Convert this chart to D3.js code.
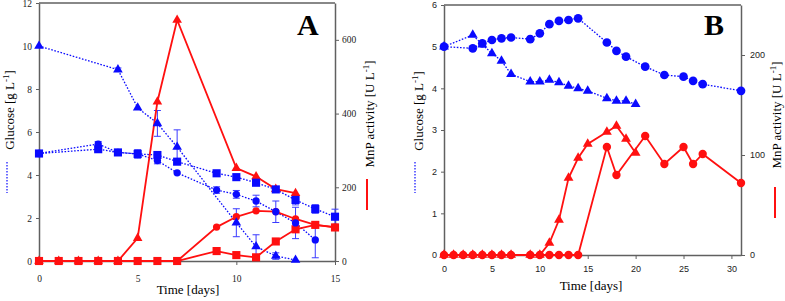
<!DOCTYPE html>
<html>
<head>
<meta charset="utf-8">
<script src="https://cdn.jsdelivr.net/npm/d3@7"></script>
<style>
    body { margin: 0; background: #fff; }
</style>
</head>
<body>
<div id="chart"></div>
<script>

// ---- panel A : glucose (blue) ----
const daysA_gTri = [0, 4, 5, 6, 7, 10, 11, 12, 13];
const glcA_tri   = [10, 8.9, 7.13, 6.4, 5.3, 1.78, 0.67, 0.23, 0.05];
const errA_tri   = [0, 0.08, 0, 0.6, 0.8, 0.65, 0.55, 0.15, 0];

const daysA_gSq  = [0, 3, 4, 5, 6, 7, 9, 10, 11, 12, 13, 14, 15];
const glcA_sq    = [5, 5.2, 5.05, 4.98, 4.93, 4.62, 4.08, 3.9, 3.64, 3.33, 2.84, 2.42, 2.06];
const errA_sq    = [0, 0.1, 0, 0.2, 0, 0, 0, 0, 0, 0, 0.23, 0.2, 0.35];

const daysA_gCi  = [0, 3, 4, 5, 6, 7, 9, 10, 11, 12, 13, 14];
const glcA_ci    = [5, 5.44, 5.05, 4.98, 4.67, 4.1, 3.3, 3.1, 2.79, 2.29, 1.77, 0.98];
const errA_ci    = [0, 0.12, 0, 0, 0.15, 0, 0.15, 0.18, 0.27, 0.5, 0.73, 0.83];

// ---- panel A : MnP activity (red) ----
const daysA_mTri = [0, 1, 2, 3, 4, 5, 6, 7, 10, 11, 12, 13];
const mnpA_tri   = [0, 0, 0, 0, 0, 62, 432, 654, 252, 229, 195, 184];

const daysA_mCi  = [0, 1, 2, 3, 4, 5, 6, 7, 9, 10, 11, 12, 13, 14, 15];
const mnpA_ci    = [0, 0, 0, 0, 0, 0, 0, 0, 92, 120, 136, 134, 114, 98, 92];

const daysA_mSq  = [0, 1, 2, 3, 4, 5, 6, 7, 9, 10, 11, 12, 13, 14, 15];
const mnpA_sq    = [0, 0, 0, 0, 0, 0, 0, 0, 27, 16, 10, 53, 86, 98, 91];

// ---- panel B : glucose (blue) ----
const daysB_gCi  = [0, 3, 4, 5, 6, 7, 9, 10, 11, 12, 13, 14, 17, 18, 19, 21, 23, 25, 26, 27, 31];
const glcB_ci    = [5, 4.96, 5.08, 5.16, 5.2, 5.22, 5.18, 5.32, 5.54, 5.62, 5.64, 5.68, 5.1, 4.9, 4.76, 4.52, 4.32, 4.28, 4.18, 4.1, 3.94];

const daysB_gTri = [0, 3, 4, 5, 6, 7, 9, 10, 11, 12, 13, 14, 15, 17, 18, 19, 20];
const glcB_tri   = [5, 5.28, 5.05, 4.84, 4.66, 4.34, 4.16, 4.16, 4.2, 4.14, 4.06, 4.0, 3.94, 3.76, 3.7, 3.7, 3.62];

// ---- panel B : MnP activity (red) ----
const daysB_mTri = [0, 1, 2, 3, 4, 5, 6, 7, 9, 10, 11, 12, 13, 14, 15, 17, 18, 19, 20];
const mnpB_tri   = [0, 0, 0, 0, 0, 0, 0, 0, 0, 0, 12, 35, 77, 97, 111, 123, 129, 116, 102];

const daysB_mCi  = [0, 1, 2, 3, 4, 5, 6, 7, 9, 10, 11, 12, 13, 14, 17, 18, 21, 23, 25, 26, 27, 31];
const mnpB_ci    = [0, 0, 0, 0, 0, 0, 0, 0, 0, 0, 0, 0, 0, 0, 108, 80, 119, 91, 108, 91, 101, 72];

// tick labels
const ticksA_x = [0, 5, 10, 15];
const ticksA_g = [0, 2, 4, 6, 8, 10, 12];
const ticksA_m = [0, 200, 400, 600];
const ticksB_x = [0, 5, 10, 15, 20, 25, 30];
const ticksB_g = [0, 1, 2, 3, 4, 5, 6];
const ticksB_m = [0, 100, 200];

const BLUE = "#0a0aff";
const RED = "#ff1010";
const AXIS = "#606060";

function zip(days, vals, errs) {
    return days.map((d, i) => ({day: d, v: vals[i], err: errs ? errs[i] : 0}));
}

class DualPanel {
    constructor(svg, cfg) {
        this.svg = svg;
        this.cfg = cfg;
        this.initVis();
    }

    initVis() {
        let vis = this;
        let c = vis.cfg;

        vis.x = d3.scaleLinear().domain(c.xDomain).range([c.left, c.right]);
        vis.yG = d3.scaleLinear().domain(c.gDomain).range([c.bottom, c.top]);
        vis.yM = d3.scaleLinear().domain(c.mDomain).range([c.bottom, c.top]);

        vis.g = vis.svg.append("g");

        // frame top line
        vis.g.append("line")
            .attr("x1", c.left).attr("x2", c.right)
            .attr("y1", c.top).attr("y2", c.top)
            .attr("stroke", AXIS).attr("stroke-width", 1.3);

        let styleAxis = function (sel, font) {
            sel.select(".domain").attr("stroke", AXIS).attr("stroke-width", 1.5);
            sel.selectAll(".tick line").attr("stroke", AXIS);
            sel.selectAll(".tick text")
                .attr("fill", "#222")
                .style("font-family", font)
                .style("font-size", c.tickFont + "px");
        };

        vis.g.append("g")
            .attr("transform", `translate(0,${c.bottom})`)
            .call(d3.axisBottom(vis.x).tickValues(c.xTicks).tickFormat(d3.format("d"))
                .tickSize(4).tickPadding(c.xPad).tickSizeOuter(0))
            .call(s => styleAxis(s, c.tickFamily));

        vis.g.append("g")
            .attr("transform", `translate(${c.left},0)`)
            .call(d3.axisLeft(vis.yG).tickValues(c.gTicks).tickFormat(d3.format("d"))
                .tickSize(3).tickPadding(4).tickSizeOuter(0))
            .call(s => styleAxis(s, c.tickFamily));

        vis.g.append("g")
            .attr("transform", `translate(${c.right},0)`)
            .call(d3.axisRight(vis.yM).tickValues(c.mTicks).tickFormat(d3.format("d"))
                .tickSize(4).tickPadding(c.rPad).tickSizeOuter(0))
            .call(s => styleAxis(s, c.tickFamily));

        // panel letter
        vis.g.append("text")
            .attr("x", c.letterX).attr("y", 35)
            .text(c.letter)
            .style("font-family", "'Liberation Serif', serif")
            .style("font-weight", "bold")
            .style("font-size", "30px")
            .attr("fill", "#000");

        vis.drawTitles();
        vis.updateVis();
    }

    drawTitles() {
        let vis = this;
        let c = vis.cfg;
        let serif = "'Liberation Serif', 'Times New Roman', serif";

        let glc = vis.g.append("text")
            .attr("transform", `translate(${c.gTitleX},${c.titleY}) rotate(-90)`)
            .attr("text-anchor", "middle")
            .style("font-family", serif).style("font-size", "13px");
        glc.append("tspan").text("Glucose [g L");
        glc.append("tspan").attr("dy", -5).style("font-size", "9px").text("-1");
        glc.append("tspan").attr("dy", 5).text("]");

        let mnp = vis.g.append("text")
            .attr("transform", `translate(${c.mTitleX},${c.titleY + 4}) rotate(-90)`)
            .attr("text-anchor", "middle")
            .style("font-family", serif).style("font-size", "13px");
        mnp.append("tspan").text("MnP activity [U L");
        mnp.append("tspan").attr("dy", -5).style("font-size", "9px").text("-1");
        mnp.append("tspan").attr("dy", 5).text("]");

        vis.g.append("text")
            .attr("x", c.timeX).attr("y", c.timeY)
            .attr("text-anchor", "middle")
            .style("font-family", serif).style("font-size", "13px")
            .text("Time [days]");

        // little legend strokes under the titles
        vis.g.append("line")
            .attr("x1", c.gLegX).attr("x2", c.gLegX)
            .attr("y1", 162).attr("y2", 193)
            .attr("stroke", BLUE).attr("stroke-width", 1.2)
            .attr("stroke-dasharray", "1.5,1.5");
        vis.g.append("line")
            .attr("x1", c.mLegX).attr("x2", c.mLegX)
            .attr("y1", c.mLegY).attr("y2", c.mLegY + 31)
            .attr("stroke", RED).attr("stroke-width", 2);
    }

    updateVis() {
        let vis = this;
        let c = vis.cfg;

        // blue glucose lines (dotted) with error bars
        c.glucose.forEach(s => {
            let line = d3.line().x(d => vis.x(d.day)).y(d => vis.yG(d.v));
            vis.g.append("path")
                .datum(s.data)
                .attr("d", line)
                .attr("fill", "none")
                .attr("stroke", BLUE)
                .attr("stroke-width", 1.3)
                .attr("stroke-dasharray", "1.6,1.6");

            let eb = vis.g.selectAll(null)
                .data(s.data.filter(d => d.err > 0))
                .enter().append("g").attr("stroke", "#3a3aff").attr("stroke-width", 1);
            eb.append("line")
                .attr("x1", d => vis.x(d.day)).attr("x2", d => vis.x(d.day))
                .attr("y1", d => vis.yG(d.v - d.err)).attr("y2", d => vis.yG(d.v + d.err));
            eb.append("line")
                .attr("x1", d => vis.x(d.day) - 3.5).attr("x2", d => vis.x(d.day) + 3.5)
                .attr("y1", d => vis.yG(d.v - d.err)).attr("y2", d => vis.yG(d.v - d.err));
            eb.append("line")
                .attr("x1", d => vis.x(d.day) - 3.5).attr("x2", d => vis.x(d.day) + 3.5)
                .attr("y1", d => vis.yG(d.v + d.err)).attr("y2", d => vis.yG(d.v + d.err));
        });

        // red MnP lines (solid)
        c.mnp.forEach(s => {
            let line = d3.line().x(d => vis.x(d.day)).y(d => vis.yM(d.v));
            vis.g.append("path")
                .datum(s.data)
                .attr("d", line)
                .attr("fill", "none")
                .attr("stroke", RED)
                .attr("stroke-width", 1.8);
        });

        // markers on top
        let drawMarks = function (series, scale, color) {
            series.forEach(s => {
                vis.g.selectAll(null)
                    .data(s.data)
                    .enter().append("path")
                    .attr("d", d3.symbol().type(s.shape).size(s.size))
                    .attr("transform", d => `translate(${vis.x(d.day)},${scale(d.v)})`)
                    .attr("fill", color);
            });
        };
        drawMarks(c.mnp, vis.yM, RED);
        drawMarks(c.glucose, vis.yG, BLUE);
    }
}

let svg = d3.select("#chart").append("svg")
    .attr("width", 785)
    .attr("height", 301);

new DualPanel(svg, {
    letter: "A", letterX: 297,
    left: 39, right: 335, top: 3, bottom: 261,
    xDomain: [0, 15], gDomain: [0, 12], mDomain: [0, 700],
    xTicks: ticksA_x, gTicks: ticksA_g, mTicks: ticksA_m,
    xPad: 10, rPad: 3,
    tickFont: 9.5, tickFamily: "'Liberation Serif', serif",
    gTitleX: 14, mTitleX: 374, titleY: 110,
    timeX: 188, timeY: 294,
    gLegX: 7, mLegX: 367, mLegY: 179,
    glucose: [
        {shape: d3.symbolTriangle, size: 40, data: zip(daysA_gTri, glcA_tri, errA_tri)},
        {shape: d3.symbolSquare, size: 66, data: zip(daysA_gSq, glcA_sq, errA_sq)},
        {shape: d3.symbolCircle, size: 42, data: zip(daysA_gCi, glcA_ci, errA_ci)}
    ],
    mnp: [
        {shape: d3.symbolTriangle, size: 40, data: zip(daysA_mTri, mnpA_tri)},
        {shape: d3.symbolCircle, size: 42, data: zip(daysA_mCi, mnpA_ci)},
        {shape: d3.symbolSquare, size: 66, data: zip(daysA_mSq, mnpA_sq)}
    ]
});

new DualPanel(svg, {
    letter: "B", letterX: 704,
    left: 444, right: 741, top: 5, bottom: 255,
    xDomain: [0, 31], gDomain: [0, 6], mDomain: [0, 250],
    xTicks: ticksB_x, gTicks: ticksB_g, mTicks: ticksB_m,
    xPad: 7, rPad: 5,
    tickFont: 9, tickFamily: "'Liberation Sans', Arial, sans-serif",
    gTitleX: 423, mTitleX: 781, titleY: 111,
    timeX: 591, timeY: 290,
    gLegX: 415, mLegX: 775, mLegY: 187,
    glucose: [
        {shape: d3.symbolCircle, size: 60, data: zip(daysB_gCi, glcB_ci)},
        {shape: d3.symbolTriangle, size: 42, data: zip(daysB_gTri, glcB_tri)}
    ],
    mnp: [
        {shape: d3.symbolTriangle, size: 42, data: zip(daysB_mTri, mnpB_tri)},
        {shape: d3.symbolCircle, size: 55, data: zip(daysB_mCi, mnpB_ci)}
    ]
});

</script>
</body>
</html>
